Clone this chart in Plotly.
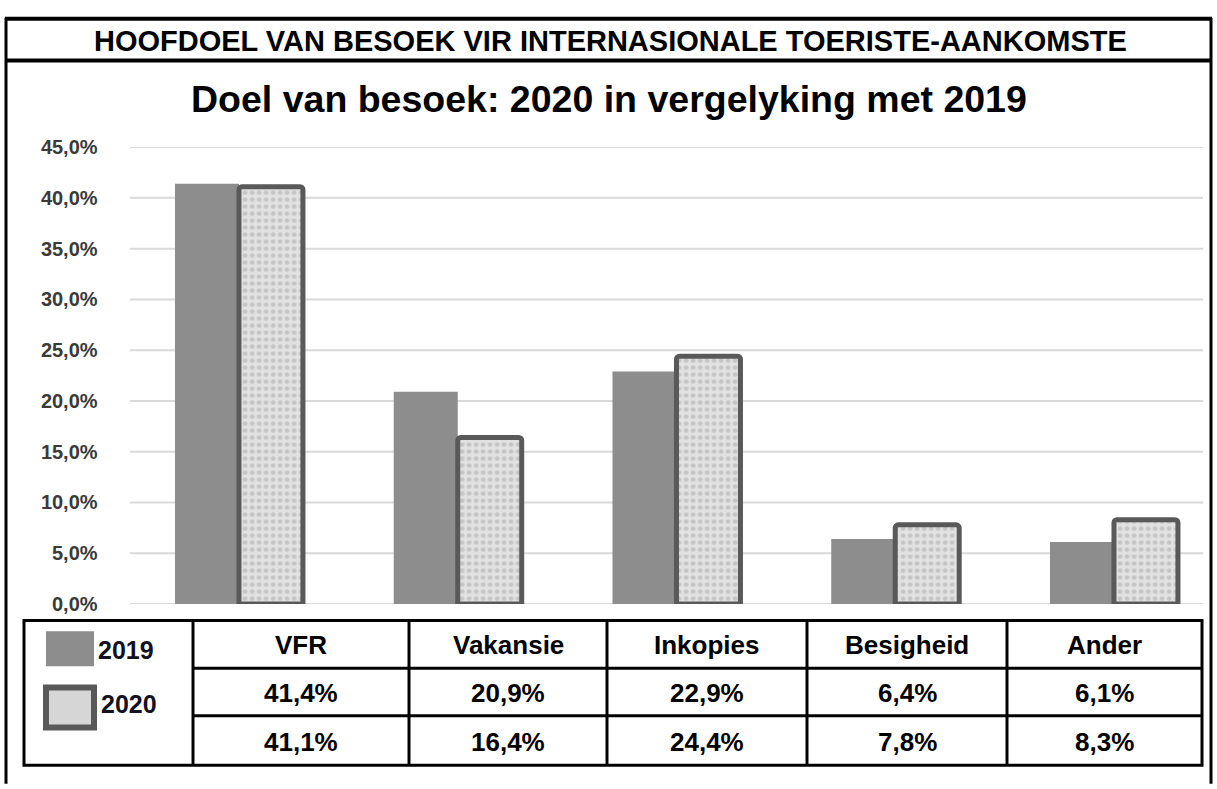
import plotly.graph_objects as go

# ---------------- data ----------------
categories = ["VFR", "Vakansie", "Inkopies", "Besigheid", "Ander"]
series_names = ["2019", "2020"]
values_2019 = [41.4, 20.9, 22.9, 6.4, 6.1]
values_2020 = [41.1, 16.4, 24.4, 7.8, 8.3]
y_ticks = [0, 5, 10, 15, 20, 25, 30, 35, 40, 45]
y_tick_labels = ["0,0%", "5,0%", "10,0%", "15,0%", "20,0%", "25,0%",
                 "30,0%", "35,0%", "40,0%", "45,0%"]
header_title = "HOOFDOEL VAN BESOEK VIR INTERNASIONALE TOERISTE-AANKOMSTE"
chart_title = "Doel van besoek: 2020 in vergelyking met 2019"

# ---------------- helpers ----------------
W, H = 1217, 789


def px(x):
    return x / W


def py(y):
    return 1 - y / H


def fmt(v):
    return f"{v:.1f}".replace(".", ",") + "%"


C2019 = "#8d8d8d"
C2020_LINE = "#595959"
C2020_FILL = "#dadada"
FONT = "Arial, Liberation Sans, sans-serif"

fig = go.Figure()
fig.add_trace(go.Bar(
    x=categories, y=values_2019, name=series_names[0],
    marker=dict(color=C2019, line=dict(width=0)),
    hovertemplate="%{x}: %{y:.1f}%<extra>2019</extra>",
))
fig.add_trace(go.Bar(
    x=categories, y=values_2020, name=series_names[1],
    marker=dict(
        color=C2020_FILL,
        line=dict(color=C2020_LINE, width=5),
        pattern=dict(shape=".", fgcolor="#c4c4c4", bgcolor="#e2e2e2",
                     size=7, solidity=0.35, fillmode="replace"),
        cornerradius=3,
    ),
    hovertemplate="%{x}: %{y:.1f}%<extra>2020</extra>",
))

shapes = []
# gridlines (tied to y-axis values)
for v in y_ticks:
    shapes.append(dict(type="line", xref="paper", yref="y",
                       x0=px(130), x1=px(1203), y0=v, y1=v,
                       line=dict(color="#d9d9d9", width=2), layer="below"))

# outer frame
black = dict(color="black", width=3)
shapes += [
    dict(type="line", xref="paper", yref="paper", x0=px(6), x1=px(6), y0=py(7), y1=py(795), line=black),
    dict(type="line", xref="paper", yref="paper", x0=px(1211), x1=px(1211), y0=py(7), y1=py(795), line=black),
    dict(type="line", xref="paper", yref="paper", x0=px(5), x1=px(1212), y0=py(8), y1=py(8), line=dict(color="black", width=4)),
    dict(type="line", xref="paper", yref="paper", x0=px(5), x1=px(1212), y0=py(51), y1=py(51), line=dict(color="black", width=4)),
]

# data table
t_left, t_right = 24, 1202
t_rows = [627, 676, 725, 776]
t_cols = [24, 193, 409, 607, 807, 1007, 1202]
shapes.append(dict(type="rect", xref="paper", yref="paper",
                   x0=px(t_left), x1=px(t_right), y0=py(t_rows[0]), y1=py(t_rows[-1]),
                   line=black, fillcolor="rgba(0,0,0,0)"))
for c in t_cols[1:-1]:
    shapes.append(dict(type="line", xref="paper", yref="paper",
                       x0=px(c), x1=px(c), y0=py(t_rows[0]), y1=py(t_rows[-1]), line=black))
for r in t_rows[1:-1]:
    shapes.append(dict(type="line", xref="paper", yref="paper",
                       x0=px(t_cols[1]), x1=px(t_right), y0=py(r), y1=py(r), line=black))

# legend swatches inside the table
shapes.append(dict(type="rect", xref="paper", yref="paper",
                   x0=px(46), x1=px(94), y0=py(638), y1=py(674),
                   line=dict(width=0), fillcolor=C2019))
shapes.append(dict(type="rect", xref="paper", yref="paper",
                   x0=px(46), x1=px(94), y0=py(696), y1=py(737),
                   line=dict(color=C2020_LINE, width=6), fillcolor="#d6d6d6"))

annotations = [
    dict(text=f"<b>{header_title}</b>", x=px(610), y=py(31), xref="paper", yref="paper",
         showarrow=False, xanchor="center", yanchor="middle",
         font=dict(family=FONT, size=29, color="black")),
    dict(text=f"<b>{chart_title}</b>", x=px(608.5), y=py(91), xref="paper", yref="paper",
         showarrow=False, xanchor="center", yanchor="middle",
         font=dict(family=FONT, size=37.5, color="black")),
    dict(text=f"<b>{series_names[0]}</b>", x=px(96), y=py(657), xref="paper", yref="paper",
         showarrow=False, xanchor="left", yanchor="middle",
         font=dict(family=FONT, size=25, color="#111122")),
    dict(text=f"<b>{series_names[1]}</b>", x=px(99), y=py(713), xref="paper", yref="paper",
         showarrow=False, xanchor="left", yanchor="middle",
         font=dict(family=FONT, size=25, color="#111122")),
]

row_centers = [(t_rows[i] + t_rows[i + 1]) / 2 for i in range(3)]
for i, cat in enumerate(categories):
    xc = (t_cols[i + 1] + t_cols[i + 2]) / 2
    cells = [cat, fmt(values_2019[i]), fmt(values_2020[i])]
    for j, txt in enumerate(cells):
        annotations.append(dict(text=f"<b>{txt}</b>", x=px(xc), y=py(row_centers[j] + 1),
                                xref="paper", yref="paper", showarrow=False,
                                xanchor="center", yanchor="middle",
                                font=dict(family=FONT, size=26, color="black")))

# category axis range chosen so groups are spaced like the reference
x_dom_left = 129.6
slot = 218.75
x_range_right = -0.5 + (W - x_dom_left) / slot

fig.update_layout(
    width=W, height=H,
    margin=dict(l=0, r=0, t=0, b=0),
    paper_bgcolor="white", plot_bgcolor="white",
    barmode="group", bargap=0.415, bargroupgap=0,
    showlegend=False,
    separators=",.",
    xaxis=dict(domain=[px(x_dom_left), 1.0], range=[-0.5, x_range_right],
               showticklabels=False, showgrid=False, zeroline=False,
               showline=False, ticks=""),
    yaxis=dict(domain=[py(610), py(140)], range=[0, 45],
               tickvals=y_ticks, ticktext=y_tick_labels,
               showgrid=False, zeroline=False, showline=False,
               ticks="outside", ticklen=27, tickcolor="rgba(0,0,0,0)",
               tickfont=dict(family=FONT, size=20, color="#3a3a3a", weight="bold")),
    shapes=shapes,
    annotations=annotations,
)

fig.write_html(
    "out.html",
    config={"displayModeBar": False},
    post_script="document.body.style.margin='0';document.body.style.padding='0';"
                "document.documentElement.style.overflow='hidden';",
)
